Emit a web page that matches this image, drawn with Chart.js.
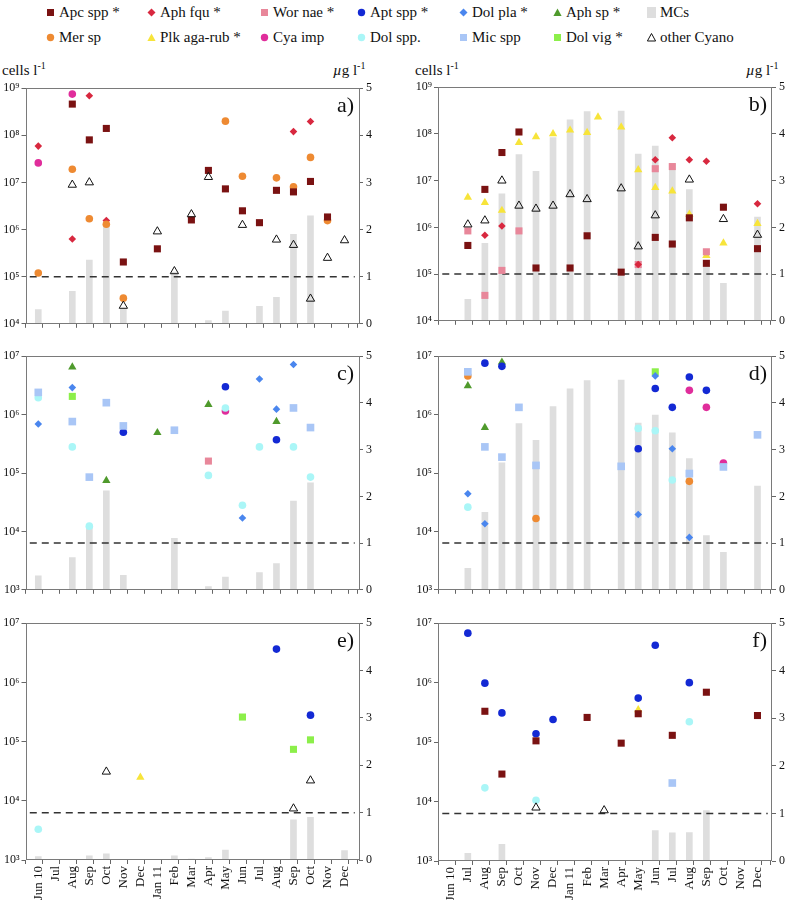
<!DOCTYPE html>
<html>
<head>
<meta charset="utf-8">
<script src="https://cdn.jsdelivr.net/npm/chart.js@4.4.1/dist/chart.umd.min.js"></script>
<style>
  body { margin: 0; background: #fff; font-family: "Liberation Serif", "Times New Roman", "DejaVu Serif", serif; }
  #page { position: relative; width: 787px; height: 900px; overflow: hidden; }
  #page canvas { position: absolute; }
  .lg { position: absolute; font-size: 15px; line-height: 18px; color: #111; white-space: nowrap; }
  .mk { position: absolute; width: 11px; height: 11px; }
  .mk svg { display: block; }
  .unit { position: absolute; font-size: 15px; line-height: 18px; color: #111; white-space: nowrap; }
  .unit sup { font-size: 10px; line-height: 0; }
</style>
</head>
<body>
<div id="page"></div>
<script>
// Monate (x-Achse)
const months = ['Jun 10', 'Jul', 'Aug', 'Sep', 'Oct', 'Nov', 'Dec', 'Jan 11', 'Feb', 'Mar', 'Apr', 'May', 'Jun', 'Jul', 'Aug', 'Sep', 'Oct', 'Nov', 'Dec'];

// MCs (µg/l) als [Monat, Wert]
const mcsLeft  = [[0, 0.30], [2, 0.69], [3, 1.35], [4, 2.12], [5, 0.31], [8, 1.1], [10, 0.07], [11, 0.27], [13, 0.37], [14, 0.56], [15, 1.9], [16, 2.29]];
const mcsRight = [[1, 0.46], [2, 1.66], [3, 2.72], [4, 3.56], [5, 3.2], [6, 3.92], [7, 4.3], [8, 4.48], [10, 4.49], [11, 3.57], [12, 3.74], [13, 3.36], [14, 2.81], [15, 1.16], [16, 0.8], [18, 2.22]];
const mcsE     = [[0, 0.07], [3, 0.09], [4, 0.13], [8, 0.09], [9, 0.02], [10, 0.05], [11, 0.21], [15, 0.85], [16, 0.9], [18, 0.2]];
const mcsF     = [[1, 0.16], [3, 0.35], [12, 0.64], [13, 0.59], [14, 0.6], [15, 1.06]];

// Panel a (cells/l)
const aApc    = [[2, 4.6e8], [3, 8e7], [4, 1.4e8], [5, 2.05e5], [7, 3.9e5], [9, 1.6e6], [10, 1.8e7], [11, 7.3e6], [12, 2.5e6], [13, 1.4e6], [14, 6.8e6], [15, 6.3e6], [16, 1.05e7], [17, 1.85e6]];
const aAphFqu = [[0, 5.9e7], [2, 6.3e5], [3, 6.9e8], [4, 1.55e6], [15, 1.2e8], [16, 1.96e8]];
const aMer    = [[0, 1.2e5], [2, 1.9e7], [3, 1.7e6], [4, 1.3e6], [5, 3.5e4], [11, 2.0e8], [12, 1.35e7], [14, 1.25e7], [15, 8.1e6], [16, 3.4e7], [17, 1.55e6]];
const aCyaImp = [[0, 2.6e7], [2, 7.5e8]];
const aOther  = [[2, 8.9e6], [3, 1.0e7], [5, 2.4e4], [7, 9.1e5], [8, 1.3e5], [9, 2.1e6], [10, 1.3e7], [12, 1.25e6], [14, 6.1e5], [15, 4.7e5], [16, 3.4e4], [17, 2.5e5], [18, 5.9e5]];

// Panel b
const bPlk    = [[1, 4.4e6], [2, 3.4e6], [3, 2.3e6], [4, 6.5e7], [5, 8.7e7], [6, 1.0e8], [7, 1.2e8], [8, 1.07e8], [8.64, 2.3e8], [10, 1.4e8], [11, 1.7e7], [12, 7.1e6], [13, 6e6], [14, 1.9e6], [15, 2.5e5], [16, 4.6e5], [18, 1.2e6]];
const bApc    = [[1, 4.1e5], [2, 6.5e6], [3, 4e7], [4, 1.1e8], [5, 1.35e5], [7, 1.35e5], [8, 6.6e5], [10, 1.1e5], [12, 6.1e5], [13, 4.4e5], [14, 1.6e6], [15, 1.7e5], [16, 2.7e6], [18, 3.5e5]];
const bWorNae = [[1, 8.4e5], [2, 3.5e4], [3, 1.2e5], [4, 8.4e5], [11, 1.6e5], [12, 1.8e7], [13, 2e7], [15, 3.0e5]];
const bAphFqu = [[2, 6.8e5], [3, 1.07e6], [11, 1.6e5], [12, 2.8e7], [13, 8.3e7], [14, 2.8e7], [15, 2.6e7], [18, 3.2e6]];
const bOther  = [[1, 1.15e6], [2, 1.4e6], [3, 1e7], [4, 2.9e6], [5, 2.5e6], [6, 2.9e6], [7, 5.1e6], [8, 4.0e6], [10, 6.8e6], [11, 3.9e5], [12, 1.8e6], [14, 1.05e7], [16, 1.5e6], [18, 6.9e5]];

// Panel c
const cDolPla = [[0, 6.9e5], [2, 2.9e6], [12, 1.7e4], [13, 4.07e6], [14, 1.24e6], [15, 7.2e6]];
const cMic    = [[0, 2.4e6], [2, 7.6e5], [3, 8.5e4], [4, 1.6e6], [5, 6.4e5], [8, 5.4e5], [15, 1.3e6], [16, 6.0e5]];
const cDolSpp = [[0, 1.94e6], [2, 2.8e5], [3, 1.23e4], [10, 9.1e4], [11, 1.3e6], [12, 2.8e4], [13, 2.8e5], [15, 2.8e5], [16, 8.5e4]];
const cAphSp  = [[2, 6.5e6], [4, 7.4e4], [7, 4.9e5], [10, 1.48e6], [14, 7.6e5]];
const cDolVig = [[2, 2.05e6]];
const cApt    = [[5, 5e5], [11, 3e6], [14, 3.7e5]];
const cCyaImp = [[11, 1.15e6]];
const cWorNae = [[10, 1.6e5]];

// Panel d
const dMic    = [[1, 5.4e6], [2, 2.8e5], [3, 1.87e5], [4, 1.33e6], [5, 1.35e5], [10, 1.3e5], [14, 9.8e4], [16, 1.27e5], [18, 4.5e5]];
const dMer    = [[1, 4.6e6], [5, 1.66e4], [14, 7.2e4]];
const dAphSp  = [[1, 3.1e6], [2, 6e5], [3, 7.9e6]];
const dApt    = [[2, 7.6e6], [3, 6.7e6], [11, 2.6e5], [12, 2.8e6], [13, 1.33e6], [14, 4.4e6], [15, 2.6e6]];
const dDolPla = [[1, 4.4e4], [2, 1.35e4], [11, 1.95e4], [12, 4.6e6], [13, 2.6e5], [14, 7.9e3]];
const dDolSpp = [[1, 2.6e4], [11, 5.8e5], [12, 5.3e5], [13, 7.6e4]];
const dDolVig = [[12, 5.4e6]];
const dCyaImp = [[14, 2.6e6], [15, 1.33e6], [16, 1.48e5]];

// Panel e
const eDolSpp = [[0, 3.3e3]];
const eOther  = [[4, 3.1e4], [15, 7.4e3], [16, 2.2e4]];
const ePlk    = [[6, 2.5e4]];
const eDolVig = [[12, 2.6e5], [15, 7.4e4], [16, 1.07e5]];
const eApt    = [[14, 3.65e6], [16, 2.8e5]];

// Panel f
const fApt    = [[1, 6.8e6], [2, 9.8e5], [3, 3.1e5], [5, 1.38e5], [6, 2.4e5], [11, 5.5e5], [12, 4.25e6], [14, 1e6]];
const fPlk    = [[11, 3.5e5]];
const fApc    = [[2, 3.3e5], [3, 2.9e4], [5, 1.05e5], [8, 2.6e5], [10, 9.6e4], [11, 3.0e5], [13, 1.3e5], [15, 6.9e5], [18, 2.8e5]];
const fDolSpp = [[2, 1.7e4], [5, 1.05e4], [14, 2.2e5]];
const fMic    = [[13, 2.05e4]];
const fOther  = [[5, 7.9e3], [9, 7.1e3]];

// Schwellenwert (µg/l)
const threshold = 1;

// Darstellung der Arten
const style = {
  apc:    { label: 'Apc spp *',     color: '#7a1212', shape: 'rect',     r: 5,   z: 1 },
  aphFqu: { label: 'Aph fqu *',     color: '#d8283f', shape: 'rectRot',  r: 3.8, z: 9 },
  worNae: { label: 'Wor nae *',     color: '#e8879a', shape: 'rect',     r: 5,   z: 11 },
  apt:    { label: 'Apt spp *',     color: '#1329d4', shape: 'circle',   r: 3.8, z: 5 },
  dolPla: { label: 'Dol pla *',     color: '#4a86ee', shape: 'rectRot',  r: 3.8, z: 3 },
  aphSp:  { label: 'Aph sp *',      color: '#4f9a2c', shape: 'triangle', r: 4.8, z: 6 },
  mcs:    { label: 'MCs',           color: '#dedede', shape: 'bar' },
  mer:    { label: 'Mer sp',        color: '#ee8a32', shape: 'circle',   r: 3.8, z: 7 },
  plk:    { label: 'Plk aga-rub *', color: '#f7e43a', shape: 'triangle', r: 4.8, z: 12 },
  cyaImp: { label: 'Cya imp',       color: '#e02d9b', shape: 'circle',   r: 3.8, z: 10 },
  dolSpp: { label: 'Dol spp.',      color: '#aaf6f7', shape: 'circle',   r: 3.8, z: 4 },
  mic:    { label: 'Mic spp',       color: '#a9c6f6', shape: 'rect',     r: 5.4, z: 2 },
  dolVig: { label: 'Dol vig *',     color: '#8cef4a', shape: 'rect',     r: 5,   z: 8 },
  other:  { label: 'other Cyano',   color: '#111111', shape: 'triangle', r: 4.8, z: 0, open: true }
};

const legendRows = [
  ['apc', 'aphFqu', 'worNae', 'apt', 'dolPla', 'aphSp', 'mcs'],
  ['mer', 'plk', 'cyaImp', 'dolSpp', 'mic', 'dolVig', 'other']
];
const legendX = [50, 151, 264, 361, 463, 557, 651];
const legendY = [12, 37];

const xMin = -0.5, xMax = 18.6;

const panels = [
  { name: 'a)', left: 0,   top: 78,  W: 393, L: 25.5, R: 34, plotH: 240, xH: 8,  logMin: 4, logMax: 9, labels: false, mcs: mcsLeft,
    series: { mer: aMer, cyaImp: aCyaImp, aphFqu: aAphFqu, apc: aApc, other: aOther } },
  { name: 'b)', left: 393, top: 77,  W: 394, L: 45,   R: 15, plotH: 238, xH: 8,  logMin: 4, logMax: 9, labels: false, mcs: mcsRight,
    series: { plk: bPlk, worNae: bWorNae, aphFqu: bAphFqu, apc: bApc, other: bOther } },
  { name: 'c)', left: 0,   top: 346, W: 393, L: 25.5, R: 34, plotH: 238, xH: 8,  logMin: 3, logMax: 7, labels: false, mcs: mcsLeft,
    series: { worNae: cWorNae, cyaImp: cCyaImp, dolVig: cDolVig, aphSp: cAphSp, apt: cApt, dolSpp: cDolSpp, dolPla: cDolPla, mic: cMic } },
  { name: 'd)', left: 393, top: 346, W: 394, L: 45,   R: 15, plotH: 238, xH: 8,  logMin: 3, logMax: 7, labels: false, mcs: mcsRight,
    series: { cyaImp: dCyaImp, dolVig: dDolVig, mer: dMer, aphSp: dAphSp, apt: dApt, dolSpp: dDolSpp, dolPla: dDolPla, mic: dMic } },
  { name: 'e)', left: 0,   top: 613, W: 393, L: 25.5, R: 34, plotH: 239, xH: 40, logMin: 3, logMax: 7, labels: true,  mcs: mcsE,
    series: { plk: ePlk, dolVig: eDolVig, apt: eApt, dolSpp: eDolSpp, other: eOther } },
  { name: 'f)', left: 393, top: 613, W: 394, L: 45,   R: 15, plotH: 240, xH: 39, logMin: 3, logMax: 7, labels: true,  mcs: mcsF,
    series: { plk: fPlk, apt: fApt, dolSpp: fDolSpp, mic: fMic, apc: fApc, other: fOther } }
];

const supDigits = { '0': '⁰', '1': '¹', '2': '²', '3': '³', '4': '⁴', '5': '⁵', '6': '⁶', '7': '⁷', '8': '⁸', '9': '⁹' };
const FONT = '"Liberation Serif", "Times New Roman", "DejaVu Serif", serif';
const page = document.getElementById('page');

// Rahmen und Panelbuchstabe
const framePlugin = {
  id: 'frame',
  afterDatasetsDraw(chart, args, opts) {
    const { ctx, chartArea: a } = chart;
    ctx.save();
    ctx.strokeStyle = '#7a7a7a';
    ctx.lineWidth = 1;
    ctx.strokeRect(Math.round(a.left) + 0.5, Math.round(a.top) + 0.5, Math.round(a.width) - 1, Math.round(a.height) - 1);
    ctx.fillStyle = '#111';
    ctx.font = '22px ' + FONT;
    ctx.textAlign = 'right';
    ctx.textBaseline = 'alphabetic';
    ctx.fillText(opts.label, a.right - 5, a.top + 24);
    ctx.restore();
  }
};

function markerSvg(st) {
  const c = st.color;
  let shape = '';
  if (st.shape === 'rect') shape = `<rect x="2" y="2" width="7" height="7" fill="${c}"/>`;
  if (st.shape === 'rectRot') shape = `<polygon points="5.5,1.5 9.5,5.5 5.5,9.5 1.5,5.5" fill="${c}"/>`;
  if (st.shape === 'circle') shape = `<circle cx="5.5" cy="5.5" r="3.7" fill="${c}"/>`;
  if (st.shape === 'triangle') shape = st.open
    ? `<polygon points="5.5,1.5 9.6,9 1.4,9" fill="none" stroke="#111" stroke-width="1"/>`
    : `<polygon points="5.5,1.5 9.6,9 1.4,9" fill="${c}"/>`;
  if (st.shape === 'bar') shape = `<rect x="1" y="0" width="9" height="11" fill="${c}"/>`;
  return `<svg width="11" height="11">${shape}</svg>`;
}

// Legende
legendRows.forEach((row, ri) => {
  row.forEach((key, ci) => {
    const st = style[key];
    const mk = document.createElement('div');
    mk.className = 'mk';
    mk.style.left = (legendX[ci] - 5.5) + 'px';
    mk.style.top = (legendY[ri] - 5.5) + 'px';
    mk.innerHTML = markerSvg(st);
    page.appendChild(mk);
    const lg = document.createElement('div');
    lg.className = 'lg';
    lg.style.left = (legendX[ci] + 9) + 'px';
    lg.style.top = (legendY[ri] - 9) + 'px';
    lg.textContent = st.label;
    page.appendChild(lg);
  });
});

// Einheiten
function addUnit(html, pos) {
  const d = document.createElement('div');
  d.className = 'unit';
  Object.assign(d.style, pos);
  d.innerHTML = html;
  page.appendChild(d);
}
addUnit('cells l<sup>-1</sup>', { left: '2px', top: '61px' });
addUnit('<i>µ</i>g l<sup>-1</sup>', { left: '333px', top: '61px' });
addUnit('cells l<sup>-1</sup>', { left: '415px', top: '61px' });
addUnit('<i>µ</i>g l<sup>-1</sup>', { left: '746px', top: '61px' });

function halfTickColor(c) {
  if (!c || !c.tick) return '#666';
  return Number.isInteger(c.tick.value) ? 'rgba(0,0,0,0)' : '#666';
}

function makePanel(p) {
  const canvas = document.createElement('canvas');
  canvas.width = p.W;
  canvas.height = 8 + p.plotH + p.xH;
  canvas.style.left = p.left + 'px';
  canvas.style.top = p.top + 'px';
  page.appendChild(canvas);

  const datasets = Object.keys(p.series).map(key => {
    const st = style[key];
    return {
      type: 'scatter',
      label: st.label,
      data: p.series[key].map(([x, y]) => ({ x, y })),
      xAxisID: 'x',
      yAxisID: 'yL',
      pointStyle: st.shape,
      pointRadius: st.r,
      backgroundColor: st.open ? 'rgba(0,0,0,0)' : st.color,
      borderColor: st.color,
      borderWidth: st.open ? 1 : 0,
      order: st.z,
      clip: false
    };
  });

  datasets.push({
    type: 'line',
    label: 'threshold',
    data: [{ x: xMin, y: threshold }, { x: xMax, y: threshold }],
    xAxisID: 'x',
    yAxisID: 'yR',
    borderColor: '#333',
    borderWidth: 1.5,
    borderDash: [7, 5],
    pointRadius: 0,
    fill: false,
    order: 50
  });

  datasets.push({
    type: 'bar',
    label: 'MCs',
    data: p.mcs.map(([x, y]) => ({ x, y })),
    xAxisID: 'x',
    yAxisID: 'yR',
    backgroundColor: style.mcs.color,
    borderWidth: 0,
    barThickness: 6,
    grouped: false,
    order: 100
  });

  const tickFont = { family: FONT, size: 12 };

  new Chart(canvas.getContext('2d'), {
    type: 'scatter',
    data: { datasets },
    options: {
      responsive: false,
      animation: false,
      layout: { padding: { top: 8, left: 0, right: 0, bottom: 0 } },
      plugins: {
        legend: { display: false },
        tooltip: { enabled: false },
        frame: { label: p.name }
      },
      scales: {
        x: {
          type: 'linear',
          position: 'bottom',
          min: xMin,
          max: xMax,
          bounds: 'data',
          afterBuildTicks: s => {
            const t = [];
            for (let v = -0.5; v <= 18.5; v += 0.5) t.push({ value: v });
            s.ticks = t;
          },
          afterFit: s => { s.height = p.xH; },
          border: { display: false },
          grid: {
            display: true,
            drawOnChartArea: false,
            drawTicks: true,
            tickLength: 4,
            color: '#666',
            tickColor: halfTickColor
          },
          ticks: {
            display: p.labels,
            autoSkip: false,
            minRotation: 90,
            maxRotation: 90,
            padding: 2,
            color: '#111',
            font: { family: FONT, size: 13 },
            callback: v => Number.isInteger(v) ? months[v] : ''
          }
        },
        yL: {
          type: 'logarithmic',
          position: 'left',
          min: Math.pow(10, p.logMin),
          max: Math.pow(10, p.logMax),
          afterBuildTicks: s => {
            const t = [];
            for (let e = p.logMin; e <= p.logMax; e++) t.push({ value: Math.pow(10, e), major: true });
            s.ticks = t;
          },
          afterFit: s => { s.width = p.L; },
          border: { display: false },
          grid: { display: true, drawOnChartArea: false, drawTicks: true, tickLength: 4, color: '#666' },
          ticks: {
            padding: 2,
            color: '#111',
            font: tickFont,
            callback: v => '10' + String(Math.round(Math.log10(v))).split('').map(d => supDigits[d]).join('')
          }
        },
        yR: {
          type: 'linear',
          position: 'right',
          min: 0,
          max: 5,
          afterFit: s => { s.width = p.R; },
          border: { display: false },
          grid: { display: true, drawOnChartArea: false, drawTicks: true, tickLength: 4, color: '#666' },
          ticks: { stepSize: 1, padding: 3, color: '#111', font: tickFont }
        }
      }
    },
    plugins: [framePlugin]
  });
}

panels.forEach(makePanel);
</script>
</body>
</html>
